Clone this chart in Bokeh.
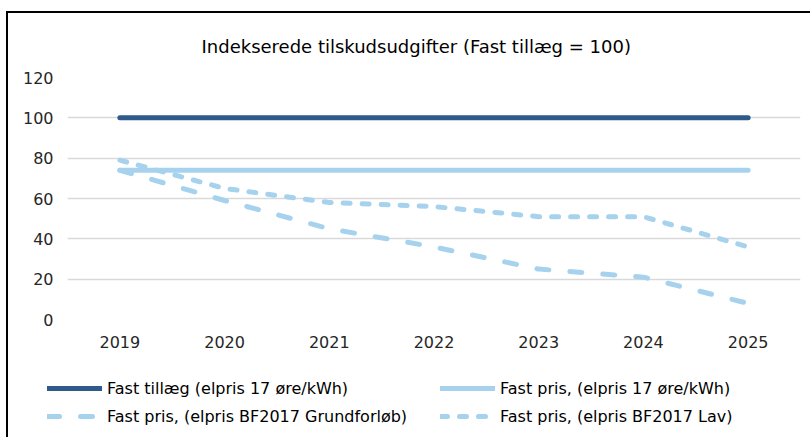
from bokeh.plotting import figure
from bokeh.models import Range1d, FixedTicker, Legend, LegendItem
from bokeh.embed import file_html
from bokeh.resources import INLINE

years = [2019, 2020, 2021, 2022, 2023, 2024, 2025]
fast_tillaeg = [100, 100, 100, 100, 100, 100, 100]
fast_pris_17 = [74, 74, 74, 74, 74, 74, 74]
fast_pris_grund = [74, 59, 45, 36, 25, 21, 8]
fast_pris_lav = [79, 65, 58, 56, 51, 51, 36]
y_ticks = [0, 20, 40, 60, 80, 100, 120]

labels = ["Fast tillæg (elpris 17 øre/kWh)",
          "Fast pris, (elpris 17 øre/kWh)",
          "Fast pris, (elpris BF2017 Grundforløb)",
          "Fast pris, (elpris BF2017 Lav)"]
title_text = "Indekserede tilskudsudgifter (Fast tillæg = 100)"

DARK = "#2E5A8C"
LIGHT = "#A6D2EE"
FONT = "DejaVu Sans"
styles = [
    dict(line_color=DARK, line_width=5, line_cap="round"),
    dict(line_color=LIGHT, line_width=5, line_cap="round"),
    dict(line_color=LIGHT, line_width=5, line_cap="round", line_dash="12 21"),
    dict(line_color=LIGHT, line_width=5, line_cap="round", line_dash="7 12"),
]
series = [fast_tillaeg, fast_pris_17, fast_pris_grund, fast_pris_lav]

W = 804
p = figure(width=W, height=360, output_backend="svg", toolbar_location=None,
           x_range=Range1d(2018.5, 2025.5), y_range=Range1d(0, 120),
           min_border_left=59, min_border_right=12, min_border_top=63,
           min_border_bottom=54)
p.outline_line_color = None
p.styles = {"border-top": "2px solid black", "border-left": "2px solid black",
            "margin-left": "6px", "margin-top": "11px"}

p.title.text = title_text
p.title.align = "left"
p.title.offset = 134
p.title.standoff = 41
p.title.text_font = FONT
p.title.text_font_size = "18px"
p.title.text_font_style = "normal"
p.title.text_color = "#000000"

for s, st in zip(series, styles):
    p.line(years, s, **st)

p.xaxis.ticker = FixedTicker(ticks=years)
p.yaxis.ticker = FixedTicker(ticks=y_ticks)
for ax in (p.xaxis, p.yaxis):
    ax.axis_line_color = None
    ax.major_tick_line_color = None
    ax.minor_tick_line_color = None
    ax.major_label_text_font = FONT
    ax.major_label_text_font_size = "16px"
    ax.major_label_text_color = "#262626"
p.yaxis.major_label_standoff = 8
p.xaxis.major_label_standoff = 10

p.xgrid.grid_line_color = None
p.ygrid.grid_line_color = "#D9D9D9"
p.ygrid.grid_line_width = 1.7

# legend panel (separate root so its frame is not aligned with the chart's)
q = figure(width=W, height=66, output_backend="svg", toolbar_location=None,
           x_range=Range1d(2018.5, 2025.5), y_range=Range1d(500, 501),
           min_border_left=0, min_border_right=0, min_border_top=0,
           min_border_bottom=0, x_axis_location=None, y_axis_location=None)
q.outline_line_color = None
q.grid.visible = False
q.styles = {"border-left": "2px solid black", "margin-left": "6px"}
rs = [q.line(years, s, **st) for s, st in zip(series, styles)]
order = [0, 2, 1, 3]
items = [LegendItem(label=labels[i], renderers=[rs[i]]) for i in order]

legend = Legend(items=items, location=(39, 11), ncols=2)
legend.glyph_width = 55
legend.glyph_height = 20
legend.label_height = 20
legend.label_width = 325
legend.label_standoff = 5
legend.spacing = 8
legend.padding = 0
legend.margin = 0
legend.border_line_color = None
legend.background_fill_alpha = 0
legend.label_text_font = FONT
legend.label_text_font_size = "16px"
legend.label_text_color = "#000000"
q.add_layout(legend, "center")

open("out.html", "w").write(file_html([p, q], INLINE))
